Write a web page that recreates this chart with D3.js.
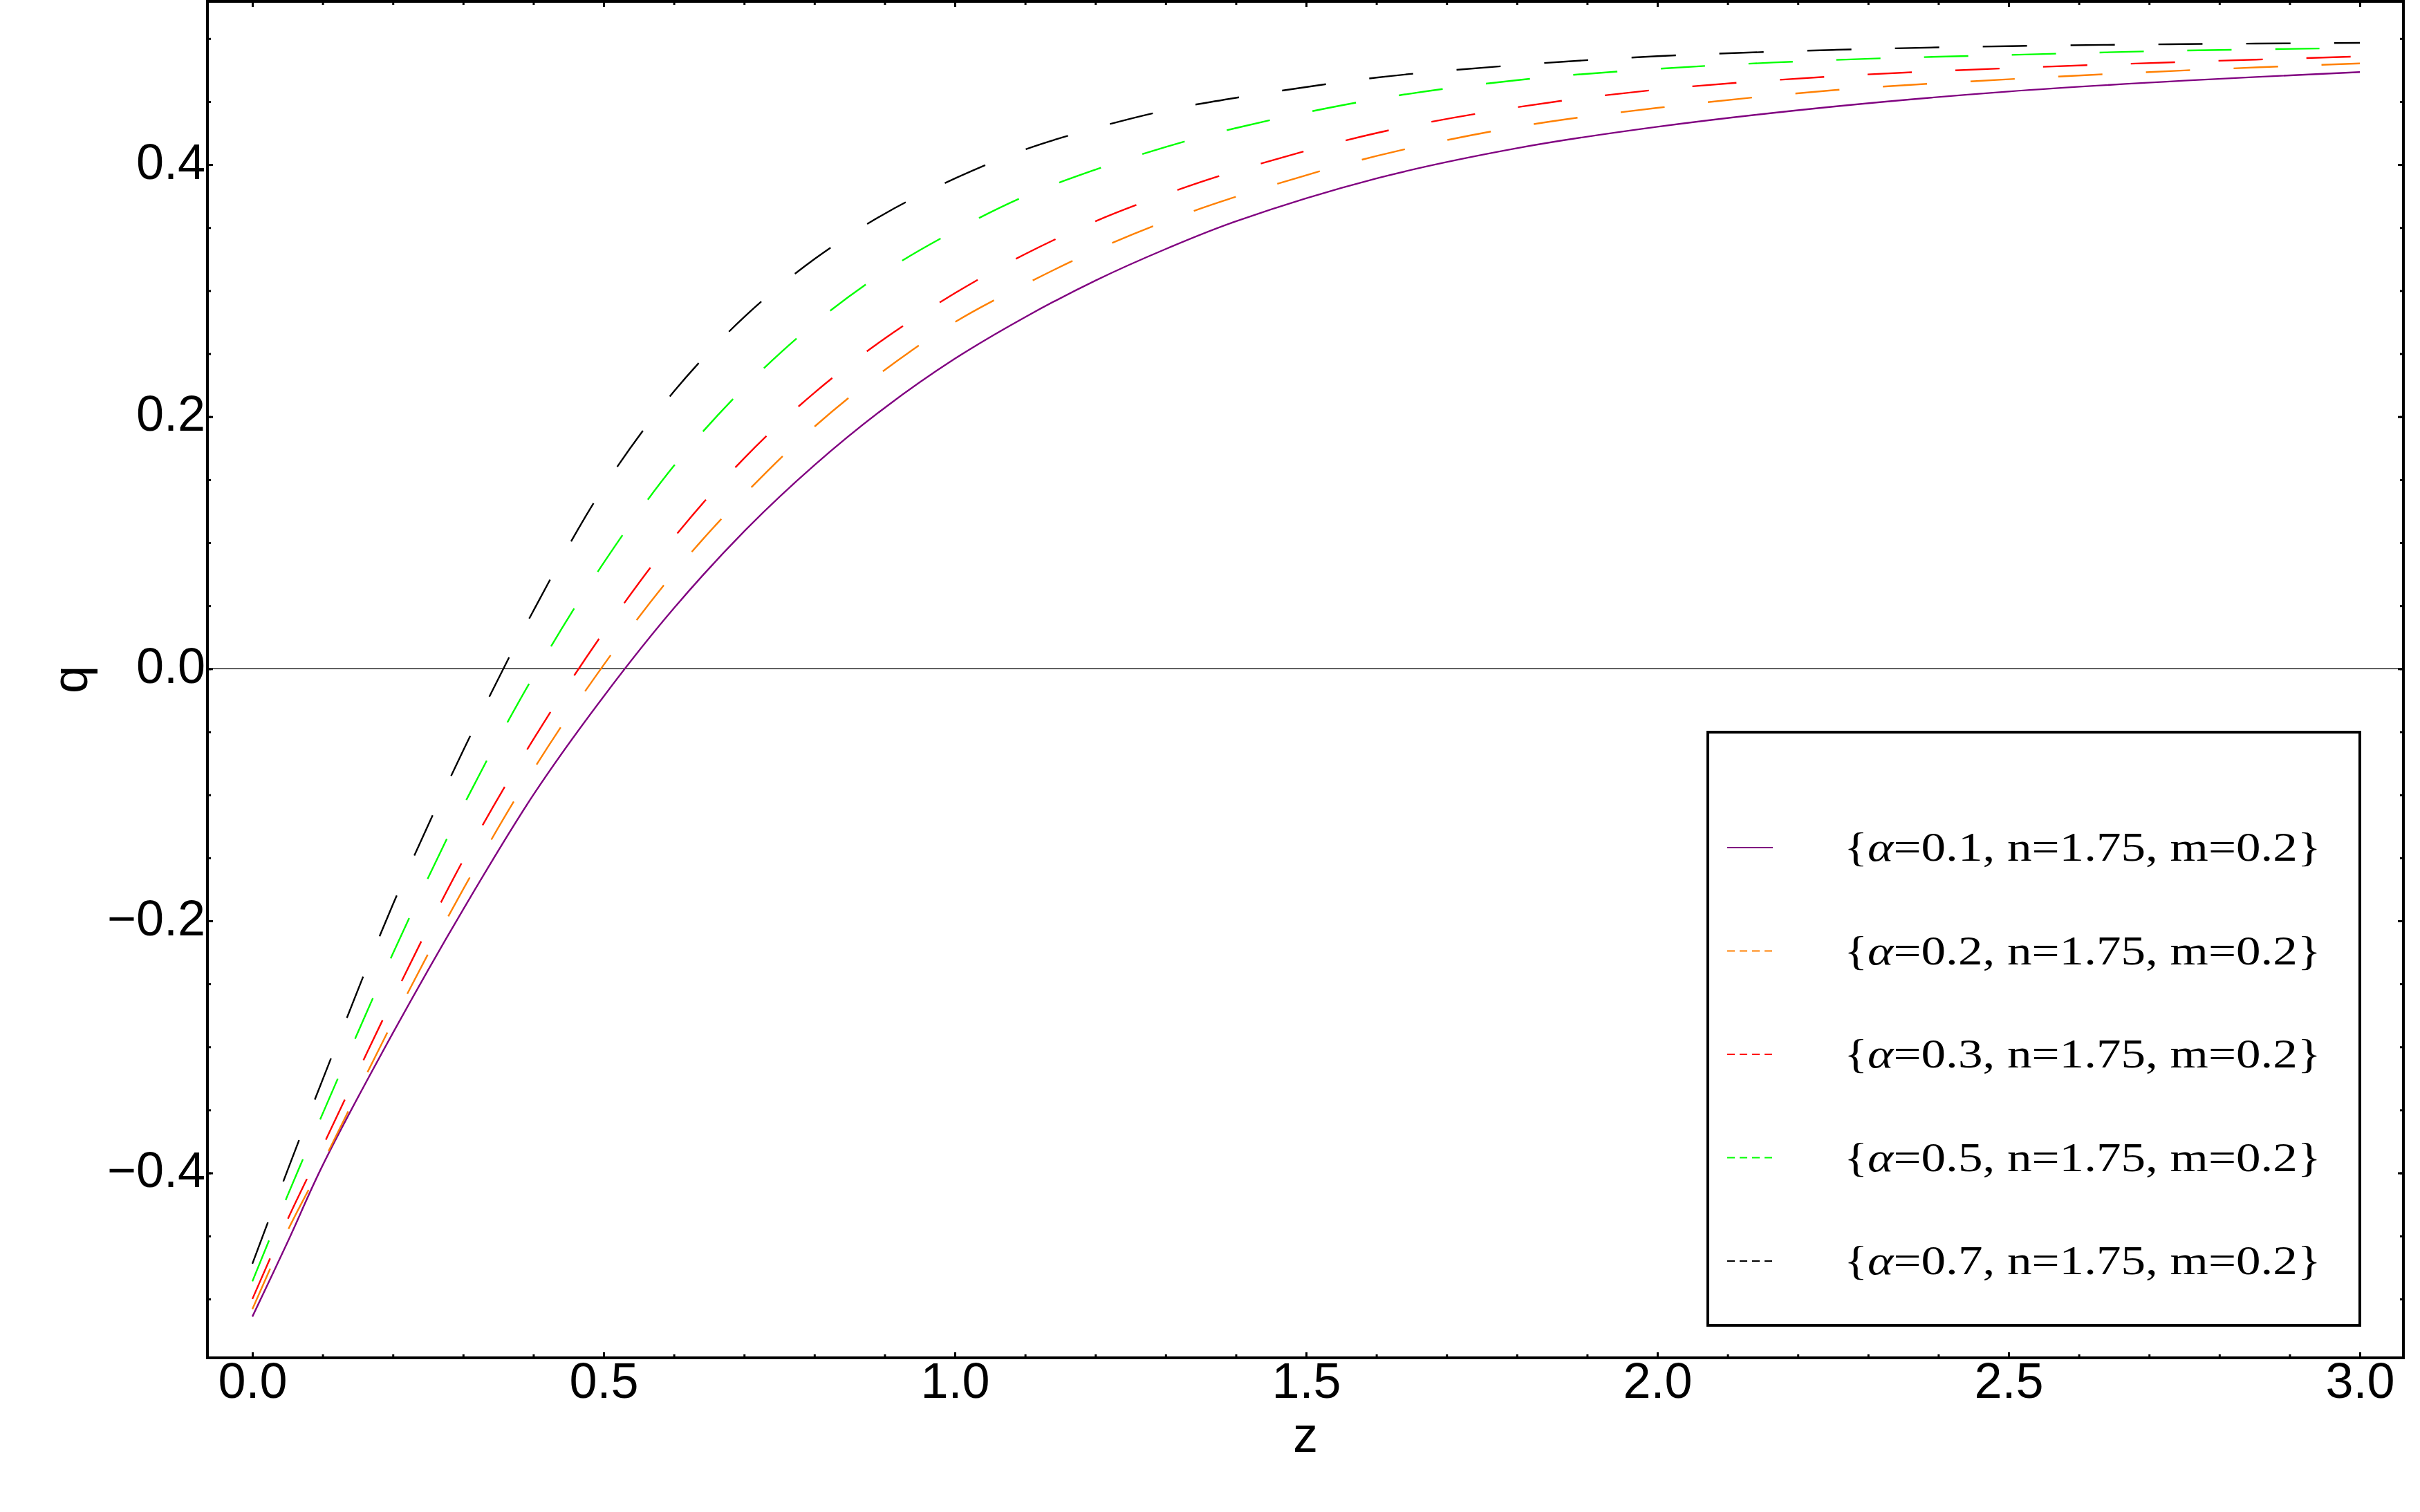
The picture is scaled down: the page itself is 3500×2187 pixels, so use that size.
<!DOCTYPE html>
<html>
<head>
<meta charset="utf-8">
<script src="https://cdn.jsdelivr.net/npm/d3@7"></script>
<style>
  html, body { margin: 0; padding: 0; background: #ffffff; }
  svg { display: block; }
</style>
</head>
<body>
<script>
// ---------------- data ----------------
const zValues = [0, 0.05, 0.1, 0.2, 0.3, 0.4, 0.5, 0.6, 0.7, 0.8, 0.9, 1.0, 1.1, 1.2, 1.3, 1.4, 1.6, 1.8, 2.0, 2.25, 2.5, 2.75, 3.0];

const qAlpha01 = [-0.514, -0.455, -0.394, -0.289, -0.191, -0.100, -0.022, 0.048, 0.109, 0.1615, 0.207, 0.246, 0.279, 0.308, 0.333, 0.355, 0.389, 0.413, 0.430, 0.446, 0.458, 0.4666, 0.4734];
const qAlpha02 = [-0.508, -0.446, -0.392, -0.280, -0.175, -0.080, 0.003, 0.076, 0.138, 0.192, 0.237, 0.275, 0.305, 0.332, 0.355, 0.3745, 0.4068, 0.4299, 0.445, 0.459, 0.4677, 0.4747, 0.4803];
const qAlpha03 = [-0.500, -0.437, -0.379, -0.262, -0.152, -0.056, 0.029, 0.104, 0.167, 0.219, 0.262, 0.298, 0.329, 0.355, 0.3765, 0.395, 0.425, 0.4455, 0.4595, 0.470, 0.4765, 0.4815, 0.4858];
const qAlpha05 = [-0.486, -0.418, -0.353, -0.226, -0.109, -0.006, 0.084, 0.161, 0.223, 0.274, 0.315, 0.3475, 0.375, 0.396, 0.414, 0.429, 0.452, 0.467, 0.476, 0.483, 0.487, 0.4905, 0.4925];
const qAlpha07 = [-0.472, -0.398, -0.326, -0.187, -0.065, 0.046, 0.144, 0.220, 0.279, 0.325, 0.361, 0.389, 0.412, 0.429, 0.443, 0.453, 0.469, 0.479, 0.486, 0.491, 0.494, 0.4956, 0.4966];

const seriesNames = ["α=0.1", "α=0.2", "α=0.3", "α=0.5", "α=0.7"];
const alphaLabels = ["0.1", "0.2", "0.3", "0.5", "0.7"];
const seriesValues = [qAlpha01, qAlpha02, qAlpha03, qAlpha05, qAlpha07];
const seriesColors = ["#800080", "#ff8000", "#ff0000", "#00ff00", "#000000"];
const seriesDashed = [false, true, true, true, true];

const xMajorTicks = [0, 0.5, 1.0, 1.5, 2.0, 2.5, 3.0];
const xMinorTicks = d3.range(0, 31).map(i => i / 10);
const yMajorTicks = [-0.4, -0.2, 0.0, 0.2, 0.4];
const yMinorTicks = d3.range(-10, 11).map(i => i / 20);

const xTitle = "z";
const yTitle = "q";

// ---------------- layout ----------------
const W = 3500, H = 2187;
const frame = { left: 300, right: 3476, top: 2, bottom: 1964 };

const x = d3.scaleLinear().domain([-0.064, 3.062]).range([frame.left, frame.right]);
const y = d3.scaleLinear().domain([-0.5467, 0.5295]).range([frame.bottom, frame.top]);

const svg = d3.select("body").append("svg")
  .attr("width", W).attr("height", H)
  .attr("viewBox", `0 0 ${W} ${H}`);

svg.append("rect").attr("x", 0).attr("y", 0).attr("width", W).attr("height", H).attr("fill", "#ffffff");

const sansFont = "'Liberation Sans', Arial, Helvetica, sans-serif";
const serifFont = "'Liberation Serif', 'Times New Roman', Times, serif";
const fmt = d3.format(".1f");

// zero axis line
svg.append("line")
  .attr("x1", frame.left).attr("x2", frame.right)
  .attr("y1", y(0)).attr("y2", y(0))
  .attr("stroke", "#222").attr("stroke-width", 1.6);

// curves
const line = d3.line()
  .x(d => x(d[0]))
  .y(d => y(d[1]))
  .curve(d3.curveCatmullRom.alpha(0.5));

seriesValues.forEach((vals, i) => {
  const pts = zValues.map((z, j) => [z, vals[j]]);
  svg.append("path")
    .datum(pts)
    .attr("d", line)
    .attr("fill", "none")
    .attr("stroke", seriesColors[i])
    .attr("stroke-width", 2.4)
    .attr("stroke-dasharray", seriesDashed[i] ? "64,63" : null);
});

// axes (ticks inward)
function styleAxis(g) {
  g.select(".domain").remove();
  g.selectAll(".tick line").attr("stroke", "#000").attr("stroke-width", 3);
  g.selectAll(".tick text")
    .attr("fill", "#000")
    .attr("font-family", sansFont)
    .attr("font-size", 72);
}

// bottom
svg.append("g").attr("transform", `translate(0,${frame.bottom})`)
  .call(d3.axisBottom(x).tickValues(xMinorTicks).tickSize(-5).tickFormat(""))
  .call(styleAxis);
svg.append("g").attr("transform", `translate(0,${frame.bottom})`)
  .call(d3.axisBottom(x).tickValues(xMajorTicks).tickSize(-8).tickPadding(7).tickFormat(fmt))
  .call(styleAxis);
// top
svg.append("g").attr("transform", `translate(0,${frame.top})`)
  .call(d3.axisTop(x).tickValues(xMinorTicks).tickSize(-5).tickFormat(""))
  .call(styleAxis);
svg.append("g").attr("transform", `translate(0,${frame.top})`)
  .call(d3.axisTop(x).tickValues(xMajorTicks).tickSize(-8).tickFormat(""))
  .call(styleAxis);
// left
svg.append("g").attr("transform", `translate(${frame.left},0)`)
  .call(d3.axisLeft(y).tickValues(yMinorTicks).tickSize(-5).tickFormat(""))
  .call(styleAxis);
const leftMajor = svg.append("g").attr("transform", `translate(${frame.left},0)`)
  .call(d3.axisLeft(y).tickValues(yMajorTicks).tickSize(-8).tickPadding(3).tickFormat(fmt))
  .call(styleAxis);
leftMajor.selectAll(".tick text").attr("dy", "0.28em");
// right
svg.append("g").attr("transform", `translate(${frame.right},0)`)
  .call(d3.axisRight(y).tickValues(yMinorTicks).tickSize(-5).tickFormat(""))
  .call(styleAxis);
svg.append("g").attr("transform", `translate(${frame.right},0)`)
  .call(d3.axisRight(y).tickValues(yMajorTicks).tickSize(-8).tickFormat(""))
  .call(styleAxis);

// frame
svg.append("rect")
  .attr("x", frame.left).attr("y", frame.top)
  .attr("width", frame.right - frame.left).attr("height", frame.bottom - frame.top)
  .attr("fill", "none").attr("stroke", "#000").attr("stroke-width", 4);

// axis titles
svg.append("text")
  .attr("x", (frame.left + frame.right) / 2).attr("y", 2100)
  .attr("text-anchor", "middle")
  .attr("font-family", sansFont).attr("font-size", 72)
  .text(xTitle);
svg.append("text")
  .attr("transform", `translate(126,${(frame.top + frame.bottom) / 2}) rotate(-90)`)
  .attr("text-anchor", "middle")
  .attr("font-family", sansFont).attr("font-size", 72)
  .text(yTitle);

// legend
const legend = { left: 2470, right: 3413, top: 1059, bottom: 1917, firstRow: 1226, rowStep: 149.5 };
svg.append("rect")
  .attr("x", legend.left).attr("y", legend.top)
  .attr("width", legend.right - legend.left).attr("height", legend.bottom - legend.top)
  .attr("fill", "#ffffff").attr("stroke", "#000").attr("stroke-width", 4);

seriesNames.forEach((name, i) => {
  const ry = legend.firstRow + i * legend.rowStep;
  svg.append("line")
    .attr("x1", 2498).attr("x2", 2564)
    .attr("y1", ry).attr("y2", ry)
    .attr("stroke", seriesColors[i]).attr("stroke-width", 2)
    .attr("stroke-dasharray", seriesDashed[i] ? "11,7" : null);
  const t = svg.append("text")
    .attr("x", 2667).attr("y", ry + 19)
    .attr("font-family", serifFont).attr("font-size", 59)
    .attr("textLength", 690).attr("lengthAdjust", "spacingAndGlyphs")
    .attr("fill", "#000");
  t.append("tspan").text("{");
  t.append("tspan").attr("font-style", "italic").text("α");
  t.append("tspan").text("=" + alphaLabels[i] + ", n=1.75, m=0.2}");
});
</script>
</body>
</html>
